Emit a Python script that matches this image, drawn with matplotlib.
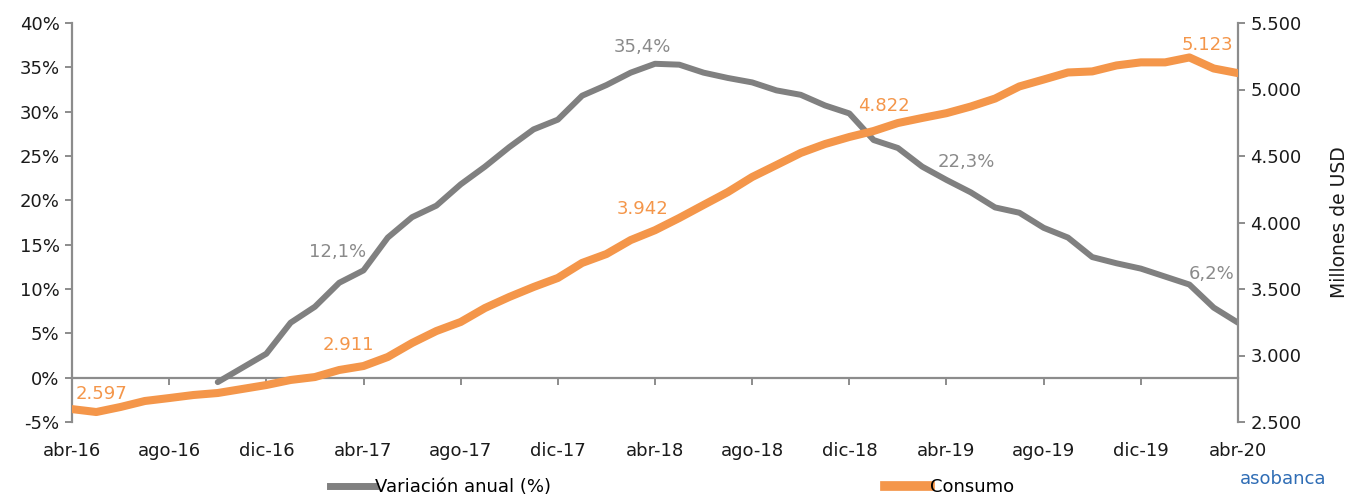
import matplotlib
matplotlib.use("Agg")
import matplotlib.pyplot as plt
from matplotlib.ticker import FuncFormatter, MultipleLocator, FixedLocator
from matplotlib.lines import Line2D
import numpy as np

plt.rcParams['font.family'] = ['DejaVu Sans']

# ---- data ----
months_es = ["ene", "feb", "mar", "abr", "may", "jun", "jul", "ago", "sep", "oct", "nov", "dic"]
start_year, start_month = 2016, 4
n_months = 49
month_labels = []
for i in range(n_months):
    m = (start_month - 1 + i) % 12
    y = start_year + (start_month - 1 + i) // 12
    month_labels.append(f"{months_es[m]}-{str(y)[2:]}")

# annual variation (%), starts oct-16
variacion = [None] * 6 + [
    -0.5, 1.1, 2.7, 6.2, 8.0, 10.7, 12.1, 15.8, 18.1, 19.4,
    21.8, 23.8, 26.0, 28.0, 29.1, 31.8, 33.0, 34.4, 35.4, 35.3,
    34.4, 33.8, 33.3, 32.4, 31.9, 30.7, 29.8, 26.8, 25.9, 23.8,
    22.3, 20.9, 19.2, 18.6, 16.9, 15.8, 13.6, 12.9, 12.3, 11.4,
    10.5, 7.9, 6.2]

consumo = [
    2597, 2575, 2613, 2658, 2680, 2703, 2718, 2748, 2778, 2816,
    2838, 2891, 2921, 2989, 3094, 3184, 3252, 3357, 3440, 3515,
    3583, 3696, 3763, 3868, 3942, 4034, 4132, 4229, 4342, 4432,
    4523, 4590, 4643, 4688, 4748, 4786, 4822, 4872, 4932, 5023,
    5075, 5128, 5136, 5181, 5204, 5204, 5241, 5158, 5123]

var_labels = {12: "12,1%", 24: "35,4%", 36: "22,3%", 48: "6,2%"}
cons_labels = {0: "2.597", 12: "2.911", 24: "3.942", 36: "4.822", 48: "5.123"}

GRAY = "#808080"
ORANGE = "#F4964A"
AXIS = "#8c8c8c"
TXT = "#1a1a1a"
FS = 13

fig = plt.figure(figsize=(13.52, 5.01), dpi=100)
ax = fig.add_axes([72/1352, 1-422/501, (1238-72)/1352, (422-23)/501])
ax2 = ax.twinx()

x = np.arange(n_months)
v = np.array([np.nan if a is None else a for a in variacion], dtype=float)
ax.plot(x, v, color=GRAY, lw=4.3, solid_capstyle='round', zorder=3)
ax2.plot(x, consumo, color=ORANGE, lw=5.8, solid_capstyle='round', zorder=3)

ax.set_xlim(0, n_months - 1)
ax.set_ylim(-5, 40)
ax2.set_ylim(2500, 5500)

ax.yaxis.set_major_locator(MultipleLocator(5))
ax.yaxis.set_major_formatter(FuncFormatter(lambda val, p: f"{int(round(val))}%"))
ax2.yaxis.set_major_locator(MultipleLocator(500))
ax2.yaxis.set_major_formatter(FuncFormatter(lambda val, p: f"{int(val):,}".replace(",", ".")))

tick_pos = list(range(0, n_months, 4))
ax.xaxis.set_major_locator(FixedLocator(tick_pos))
ax.set_xticklabels([month_labels[i] for i in tick_pos])

ax.spines["top"].set_visible(False)
ax2.spines["top"].set_visible(False)
ax.spines["right"].set_visible(False)
ax2.spines["left"].set_visible(False)
ax2.spines["bottom"].set_visible(False)
ax.spines["bottom"].set_position(("data", 0))
for sp in [ax.spines["left"], ax.spines["bottom"], ax2.spines["right"]]:
    sp.set_color(AXIS)
    sp.set_linewidth(1.6)

ax.tick_params(axis='y', which='major', length=5, width=1.4, color=AXIS,
               labelsize=FS, labelcolor=TXT, pad=4)
ax2.tick_params(axis='y', which='major', length=5, width=1.4, color=AXIS,
                labelsize=FS, labelcolor=TXT, pad=4)
ax.tick_params(axis='x', which='major', length=5, width=1.4, color=AXIS,
               labelsize=FS, labelcolor=TXT, pad=41, direction='out')

ax2.set_ylabel("Millones de USD", fontsize=13.5, color=TXT, labelpad=20)

# data labels
var_off = {12: (-19, 13), 24: (-9, 12), 36: (14, 13), 48: (-19, 35)}
cons_off = {0: (21, 11), 12: (-11, 15), 24: (-9, 15), 36: (-45, 5), 48: (-22, 20)}
for i, t in var_labels.items():
    ax.annotate(t, xy=(i, v[i]), xytext=var_off[i], textcoords="offset points",
                ha="center", va="center", fontsize=FS, color="#8a8a8a")
for i, t in cons_labels.items():
    ax2.annotate(t, xy=(i, consumo[i]), xytext=cons_off[i], textcoords="offset points",
                 ha="center", va="center", fontsize=FS, color=ORANGE)

# legend
h1 = Line2D([], [], color=GRAY, lw=5)
h2 = Line2D([], [], color=ORANGE, lw=7)
fig.legend([h1, h2], ["Variación anual (%)", "Consumo"], loc="center",
           bbox_to_anchor=(0.497, 0.028), ncol=2, frameon=False,
           fontsize=FS, handlelength=2.5, handletextpad=0.0,
           columnspacing=18.5)

fig.text(1283/1352, 1-479/501, "asobanca", color="#2f6db5", fontsize=13,
         ha="center", va="center")

fig.savefig("out.png", dpi=100)
